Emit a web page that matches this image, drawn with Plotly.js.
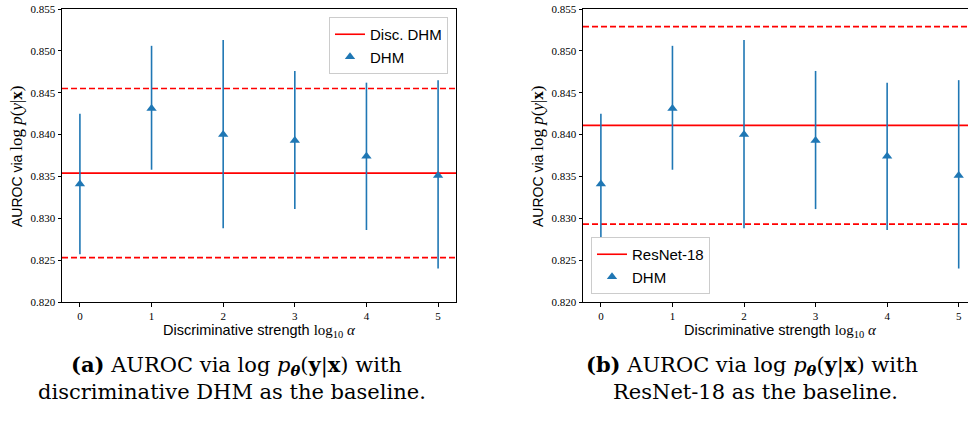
<!DOCTYPE html>
<html><head><meta charset="utf-8">
<script src="https://cdn.plot.ly/plotly-3.0.1.min.js"></script>
<style>html,body{margin:0;padding:0;background:#fff;} #chart{width:968px;height:421px;}</style>
</head><body><div id="chart"></div>
<script>
// ---- data ----
const alphaLog = [0, 1, 2, 3, 4, 5];
const dhmMean  = [0.8341, 0.8431, 0.8400, 0.8393, 0.8374, 0.8351];
const dhmUpper = [0.8425, 0.8506, 0.8513, 0.8476, 0.8462, 0.8465];
const dhmLower = [0.8257, 0.8358, 0.8288, 0.8311, 0.8286, 0.8240];
const baselineNames = ['Disc. DHM', 'ResNet-18'];
const baselineMean  = [0.8354, 0.8411];
const baselineUpper = [0.8455, 0.8529];
const baselineLower = [0.8253, 0.8293];
const yTickVals = [0.820, 0.825, 0.830, 0.835, 0.840, 0.845, 0.850, 0.855];
const yTickText = ['0.820', '0.825', '0.830', '0.835', '0.840', '0.845', '0.850', '0.855'];
const xTickVals = [0, 1, 2, 3, 4, 5];
const xTickText = ['0', '1', '2', '3', '4', '5'];

// ---- style / layout constants ----
const W = 968, H = 421;
const BLUE = '#1f77b4', RED = '#ff0000';
const SANS = "'Liberation Sans', Arial, sans-serif";
const SERIF = "'Liberation Serif', 'Times New Roman', serif";
const xSpan = [-0.25, 5.25];
const px = v => v / W, py = v => 1 - v / H;

const errPlus = dhmUpper.map((u, i) => u - dhmMean[i]);
const errMinus = dhmLower.map((l, i) => dhmMean[i] - l);

function panel(k, xa, ya, leg) {
  const out = [];
  out.push({x: xSpan, y: [baselineMean[k], baselineMean[k]], xaxis: xa, yaxis: ya,
    mode: 'lines', line: {color: RED, width: 1.6}, name: baselineNames[k], legend: leg, showlegend: true, hoverinfo: 'skip'});
  out.push({x: xSpan, y: [baselineUpper[k], baselineUpper[k]], xaxis: xa, yaxis: ya,
    mode: 'lines', line: {color: RED, width: 1.6, dash: '6px,3px'}, showlegend: false, hoverinfo: 'skip'});
  out.push({x: xSpan, y: [baselineLower[k], baselineLower[k]], xaxis: xa, yaxis: ya,
    mode: 'lines', line: {color: RED, width: 1.6, dash: '6px,3px'}, showlegend: false, hoverinfo: 'skip'});
  out.push({x: alphaLog, y: dhmMean, xaxis: xa, yaxis: ya, mode: 'markers', name: 'DHM', legend: leg,
    marker: {symbol: 'triangle-up', size: 9, color: BLUE},
    error_y: {type: 'data', symmetric: false, array: errPlus, arrayminus: errMinus, color: BLUE, thickness: 1.6, width: 0}});
  return out;
}

const data = [...panel(0, 'x', 'y', 'legend'), ...panel(1, 'x2', 'y2', 'legend2')];

const axCommon = {
  showline: true, linecolor: '#000', linewidth: 1, ticks: 'outside', ticklen: 3.5, tickwidth: 1, tickcolor: '#000',
  showgrid: false, zeroline: false, tickfont: {family: SERIF, size: 11, color: '#000'}, ticklabelstandoff: 0
};
const yDom = [py(302), py(9)];

const yTitle = 'AUROC via <span style="font-family:\'Liberation Serif\',serif;font-size:17px">log <i>p</i>(<i>y</i>|<b>x</b>)</span>';
const xTitle = 'Discriminative strength <span style="font-family:\'Liberation Serif\',serif;font-size:15px">log<sub>10</sub> <i>α</i></span>';
const capFont = {family: "'DejaVu Serif', serif", size: 21, color: '#000'};

const layout = {
  width: W, height: H, margin: {l: 0, r: 0, t: 0, b: 0},
  paper_bgcolor: '#fff', plot_bgcolor: '#fff', showlegend: true,
  xaxis: Object.assign({}, axCommon, {domain: [px(62), px(456)], range: [-0.25, 5.25], mirror: true, tickvals: xTickVals, ticktext: xTickText, anchor: 'y'}),
  yaxis: Object.assign({}, axCommon, {domain: yDom, range: [0.820, 0.855], mirror: true, tickvals: yTickVals, ticktext: yTickText, anchor: 'x'}),
  xaxis2: Object.assign({}, axCommon, {domain: [px(583), 1], range: [-0.25, 5.13], mirror: true, tickvals: xTickVals, ticktext: xTickText, anchor: 'y2'}),
  yaxis2: Object.assign({}, axCommon, {domain: yDom, range: [0.820, 0.855], mirror: false, tickvals: yTickVals, ticktext: yTickText, anchor: 'x2'}),
  legend: {x: px(448), y: py(17), xanchor: 'right', yanchor: 'top', bgcolor: '#fff', bordercolor: '#ccc', borderwidth: 1,
    font: {family: SANS, size: 15, color: '#000'}, tracegroupgap: 0},
  legend2: {x: px(591), y: py(294), xanchor: 'left', yanchor: 'bottom', bgcolor: '#fff', bordercolor: '#ccc', borderwidth: 1,
    font: {family: SANS, size: 15, color: '#000'}, tracegroupgap: 0},
  annotations: [
    {text: yTitle, xref: 'paper', yref: 'paper', x: px(16), y: py(156), textangle: -90, showarrow: false, xanchor: 'center', yanchor: 'middle', font: {family: SANS, size: 14, color: '#000'}},
    {text: yTitle, xref: 'paper', yref: 'paper', x: px(537), y: py(156), textangle: -90, showarrow: false, xanchor: 'center', yanchor: 'middle', font: {family: SANS, size: 14, color: '#000'}},
    {text: xTitle, xref: 'paper', yref: 'paper', x: px(259), y: py(331), showarrow: false, xanchor: 'center', yanchor: 'middle', font: {family: SANS, size: 14.5, color: '#000'}},
    {text: xTitle, xref: 'paper', yref: 'paper', x: px(780), y: py(331), showarrow: false, xanchor: 'center', yanchor: 'middle', font: {family: SANS, size: 14.5, color: '#000'}},
    {text: '<b>(a)</b> AUROC via log <i>p</i><sub><b><i>θ</i></b></sub>(<b>y</b>|<b>x</b>) with', xref: 'paper', yref: 'paper', x: px(236), y: py(365), showarrow: false, xanchor: 'center', yanchor: 'middle', font: capFont},
    {text: 'discriminative DHM as the baseline.', xref: 'paper', yref: 'paper', x: px(232), y: py(392), showarrow: false, xanchor: 'center', yanchor: 'middle', font: capFont},
    {text: '<b>(b)</b> AUROC via log <i>p</i><sub><b><i>θ</i></b></sub>(<b>y</b>|<b>x</b>) with', xref: 'paper', yref: 'paper', x: px(752), y: py(365), showarrow: false, xanchor: 'center', yanchor: 'middle', font: capFont},
    {text: 'ResNet-18 as the baseline.', xref: 'paper', yref: 'paper', x: px(755), y: py(392), showarrow: false, xanchor: 'center', yanchor: 'middle', font: capFont}
  ]
};

Plotly.newPlot('chart', data, layout, {displayModeBar: false, staticPlot: true});
</script></body></html>
